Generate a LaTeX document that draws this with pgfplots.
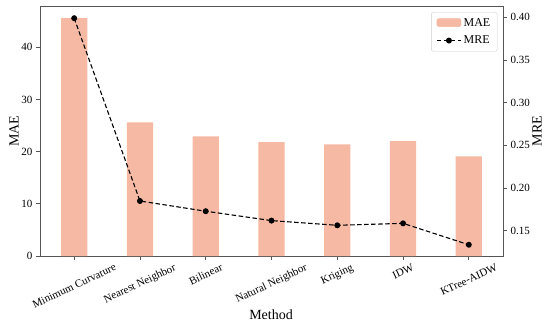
\documentclass[border=0pt]{standalone}
\usepackage{fontspec}
\setmainfont{Liberation Serif}
\usepackage{pgfplots}
\pgfplotsset{compat=1.18}
\definecolor{barc}{HTML}{F6B9A3}
\definecolor{framec}{HTML}{555555}
\begin{document}
\begin{tikzpicture}
\pgfplotsset{
  common/.style={
    scale only axis, width=463pt, height=250pt,
    xmin=-0.52, xmax=6.52,
    tick align=outside, major tick length=4pt,
    axis line style={framec, line width=0.8pt},
    every tick/.style={framec, line width=0.8pt},
    /pgf/number format/assume math mode=true,
    ticklabel style={font=\fontsize{11}{13}\selectfont},
    label style={font=\fontsize{14}{16}\selectfont},
  }
}
\begin{axis}[common, name=main,
  ymin=0, ymax=47.9,
  ytick={0,10,20,30,40},
  ytick pos=left, xtick pos=bottom,
  xtick={0,1,2,3,4,5,6},
  xticklabels={\rotatebox{25}{Minimum Curvature},\rotatebox{25}{Nearest Neighbor},\rotatebox{25}{Bilinear},\rotatebox{25}{Natural Neighbor},\rotatebox{25}{Kriging},\rotatebox{25}{IDW},\rotatebox{25}{KTree-AIDW}},
  xticklabel style={anchor=north, inner sep=2pt, yshift=-1pt},
  xlabel={Method},
  xlabel style={at={(axis description cs:0.499,-0.236)}, anchor=center},
  ylabel={MAE},
  ylabel style={at={(axis description cs:-0.056,0.5)}, anchor=center},
]
\addplot[ybar, bar width=0.4, fill=barc, draw=none] coordinates {
(0,45.6) (1,25.6) (2,22.9) (3,21.8) (4,21.4) (5,22.0) (6,19.1)};
\end{axis}
\begin{axis}[common,
  ymin=0.1202, ymax=0.4133,
  hide x axis, xtick=\empty, axis y line*=right,
  ytick={0.15,0.20,0.25,0.30,0.35,0.40},
  yticklabel style={/pgf/number format/.cd, fixed, fixed zerofill, precision=2},
  ylabel={MRE},
  ylabel style={at={(axis description cs:1.0734,0.5)}, anchor=center},
  legend style={at={(0.988,0.975)}, anchor=north east, draw=black!20, rounded corners=2pt,
    font=\fontsize{12}{14}\selectfont, inner xsep=5pt, inner ysep=4pt, row sep=4pt},
  legend cell align=left,
  legend image code/.code={\draw[mark repeat=2,mark phase=2,#1] plot coordinates {(0cm,0cm) (0.425cm,0cm) (0.85cm,0cm)};},
]
\addlegendimage{legend image code/.code={\fill[barc] (0cm,-0.12cm) rectangle (0.85cm,0.16cm);}}
\addlegendentry{MAE}
\addplot[black, line width=1.1pt, dash pattern=on 4.5pt off 2.5pt, mark=*, mark size=2.4pt, mark options={solid}] coordinates {
(0,0.399) (1,0.1847) (2,0.1727) (3,0.1617) (4,0.1562) (5,0.1585) (6,0.1334)};
\addlegendentry{MRE}
\end{axis}
\pgfresetboundingbox
\path[use as bounding box] ([shift={(-40pt,-70pt)}]main.south west) rectangle ([shift={(47pt,6pt)}]main.north east);
\end{tikzpicture}
\end{document}
